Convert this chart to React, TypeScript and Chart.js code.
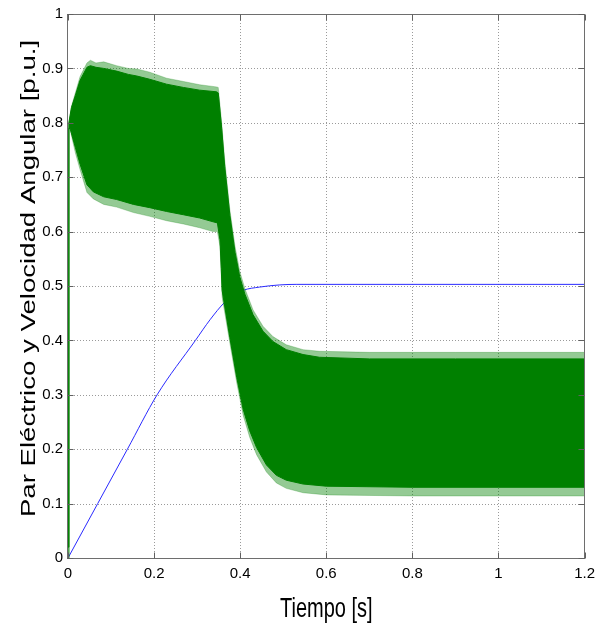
import React, { useEffect, useRef } from 'react';
import { Chart, registerables } from 'chart.js';

Chart.register(...registerables);

// Axis ticks
const xTicks = [0, 0.2, 0.4, 0.6, 0.8, 1, 1.2];
const xTickLabels = ['0', '0.2', '0.4', '0.6', '0.8', '1', '1.2'];
const yTicks = [0, 0.1, 0.2, 0.3, 0.4, 0.5, 0.6, 0.7, 0.8, 0.9, 1];
const yTickLabels = ['0', '0.1', '0.2', '0.3', '0.4', '0.5', '0.6', '0.7', '0.8', '0.9', '1'];

const xTitle = 'Tiempo [s]';
const yTitle = 'Par Eléctrico y Velocidad Angular [p.u.]';

// Electrical torque (green) – upper edge: times, spike extremes, dense body
const torqueUpperT = [0, 0.002, 0.008, 0.017, 0.028, 0.044, 0.052, 0.065, 0.083, 0.113, 0.14, 0.16, 0.19, 0.229, 0.268, 0.306, 0.345, 0.349, 0.357, 0.364, 0.376, 0.388, 0.399, 0.411, 0.43, 0.453, 0.476, 0.507, 0.546, 0.584, 0.7, 0.9, 1.2];
const torqueUpperSpikeV = [0.02, 0.8, 0.83, 0.855, 0.885, 0.91, 0.915, 0.91, 0.912, 0.905, 0.9, 0.899, 0.893, 0.882, 0.876, 0.87, 0.866, 0.865, 0.8, 0.732, 0.64, 0.573, 0.527, 0.495, 0.456, 0.426, 0.407, 0.392, 0.383, 0.38, 0.378, 0.378, 0.378];
const torqueUpperDenseV = [0.02, 0.8, 0.828, 0.85, 0.878, 0.902, 0.905, 0.902, 0.9, 0.895, 0.889, 0.886, 0.88, 0.871, 0.865, 0.86, 0.857, 0.855, 0.79, 0.72, 0.63, 0.562, 0.517, 0.485, 0.447, 0.417, 0.398, 0.383, 0.374, 0.369, 0.366, 0.366, 0.366];

// Electrical torque (green) – lower edge: times, spike extremes, dense body
const torqueLowerT = [0, 0.002, 0.005, 0.017, 0.028, 0.044, 0.059, 0.083, 0.113, 0.152, 0.19, 0.229, 0.268, 0.306, 0.337, 0.347, 0.353, 0.356, 0.358, 0.376, 0.392, 0.407, 0.422, 0.438, 0.461, 0.484, 0.507, 0.546, 0.6, 0.8, 1.0, 1.2];
const torqueLowerSpikeV = [0.0, 0.79, 0.787, 0.745, 0.714, 0.672, 0.66, 0.65, 0.645, 0.635, 0.628, 0.62, 0.614, 0.607, 0.6, 0.6, 0.573, 0.52, 0.48, 0.395, 0.322, 0.262, 0.222, 0.19, 0.158, 0.138, 0.128, 0.12, 0.116, 0.114, 0.114, 0.114];
const torqueLowerDenseV = [0.0, 0.79, 0.789, 0.755, 0.724, 0.686, 0.673, 0.664, 0.659, 0.65, 0.644, 0.637, 0.631, 0.625, 0.618, 0.616, 0.585, 0.532, 0.492, 0.405, 0.332, 0.273, 0.234, 0.203, 0.171, 0.152, 0.143, 0.136, 0.132, 0.13, 0.13, 0.13];

// Angular speed (blue)
const speedT = [0, 0.069, 0.138, 0.207, 0.296, 0.33, 0.364, 0.385, 0.407, 0.445, 0.492, 0.53, 0.6, 1.2];
const speedV = [0, 0.1, 0.2, 0.3, 0.4, 0.438, 0.47, 0.482, 0.492, 0.498, 0.502, 0.503, 0.503, 0.503];

const FONT = '"Liberation Sans", Arial, Helvetica, sans-serif';
const STRETCH = 1.38;

const pts = (t: number[], v: number[]) => t.map((x, i) => ({ x, y: v[i] }));

const framePlugin = {
  id: 'matlabFrame',
  beforeDatasetsDraw(chart: any) {
    const { ctx, chartArea: a, scales } = chart;
    const x = scales.x;
    const y = scales.y;
    ctx.save();
    ctx.strokeStyle = '#9a9a9a';
    ctx.lineWidth = 1;
    ctx.setLineDash([1, 2]);
    xTicks.forEach((v) => {
      if (v === xTicks[0] || v === xTicks[xTicks.length - 1]) return;
      const px = Math.round(x.getPixelForValue(v)) + 0.5;
      ctx.beginPath();
      ctx.moveTo(px, a.top);
      ctx.lineTo(px, a.bottom);
      ctx.stroke();
    });
    yTicks.forEach((v) => {
      if (v === yTicks[0] || v === yTicks[yTicks.length - 1]) return;
      const py = Math.round(y.getPixelForValue(v)) + 0.5;
      ctx.beginPath();
      ctx.moveTo(a.left, py);
      ctx.lineTo(a.right, py);
      ctx.stroke();
    });
    ctx.restore();
  },
  afterDatasetsDraw(chart: any) {
    const { ctx, chartArea: a, scales } = chart;
    const x = scales.x;
    const y = scales.y;
    const L = Math.round(a.left) - 0.5;
    const R = Math.round(a.right) - 0.5;
    const T = Math.round(a.top) + 0.5;
    const B = Math.round(a.bottom) + 0.5;
    ctx.save();
    ctx.setLineDash([]);
    ctx.lineWidth = 1;
    ctx.strokeStyle = '#6e6e6e';
    ctx.strokeRect(L, T, R - L, B - T);
    const tl = 6;
    ctx.strokeStyle = '#606060';
    xTicks.forEach((v) => {
      const px = Math.round(x.getPixelForValue(v)) + 0.5;
      ctx.beginPath();
      ctx.moveTo(px, B);
      ctx.lineTo(px, B - tl);
      ctx.moveTo(px, T);
      ctx.lineTo(px, T + tl);
      ctx.stroke();
    });
    yTicks.forEach((v) => {
      const py = Math.round(y.getPixelForValue(v)) + 0.5;
      ctx.beginPath();
      ctx.moveTo(L, py);
      ctx.lineTo(L + tl, py);
      ctx.moveTo(R, py);
      ctx.lineTo(R - tl, py);
      ctx.stroke();
    });
    ctx.restore();
  },
  afterDraw(chart: any) {
    const { ctx, chartArea: a } = chart;
    ctx.save();
    ctx.fillStyle = '#000';
    ctx.font = `20px ${FONT}`;
    ctx.textAlign = 'center';
    ctx.textBaseline = 'alphabetic';
    // x title
    ctx.save();
    ctx.translate((a.left + a.right) / 2, 617);
    ctx.scale(1, STRETCH);
    ctx.fillText(xTitle, 0, 0);
    ctx.restore();
    // y title
    ctx.save();
    ctx.translate(35, 278.5);
    ctx.rotate(-Math.PI / 2);
    ctx.scale(STRETCH, 1);
    ctx.fillText(yTitle, 0, 0);
    ctx.restore();
    ctx.restore();
  },
};

export default function App() {
  const canvasRef = useRef<HTMLCanvasElement | null>(null);

  useEffect(() => {
    document.body.style.margin = '0';
    document.body.style.background = '#ffffff';
    const canvas = canvasRef.current;
    if (!canvas) return;
    const green = 'rgb(0,128,0)';
    const lightGreen = 'rgba(0,128,0,0.42)';
    const chart = new Chart(canvas, {
      type: 'line',
      data: {
        datasets: [
          {
            label: 'Par eléctrico (cuerpo inferior)',
            data: pts(torqueLowerT, torqueLowerDenseV),
            borderColor: green,
            borderWidth: 1,
            pointRadius: 0,
            fill: false,
            tension: 0,
          },
          {
            label: 'Par eléctrico (cuerpo superior)',
            data: pts(torqueUpperT, torqueUpperDenseV),
            borderColor: green,
            borderWidth: 1,
            backgroundColor: green,
            pointRadius: 0,
            fill: '-1',
            tension: 0,
          },
          {
            label: 'Par eléctrico (picos inferiores)',
            data: pts(torqueLowerT, torqueLowerSpikeV),
            borderColor: 'rgba(0,128,0,0.25)',
            borderWidth: 1,
            pointRadius: 0,
            fill: false,
            tension: 0,
          },
          {
            label: 'Par eléctrico (picos superiores)',
            data: pts(torqueUpperT, torqueUpperSpikeV),
            borderColor: 'rgba(0,128,0,0.25)',
            borderWidth: 1,
            backgroundColor: lightGreen,
            pointRadius: 0,
            fill: '-1',
            tension: 0,
          },
          {
            label: 'Velocidad angular',
            data: pts(speedT, speedV),
            borderColor: '#2a2aff',
            borderWidth: 1,
            pointRadius: 0,
            fill: false,
            cubicInterpolationMode: 'monotone',
          },
        ],
      },
      options: {
        responsive: false,
        animation: false,
        devicePixelRatio: 1,
        layout: { padding: { left: 0, top: 14, right: 16, bottom: 0 } },
        plugins: {
          legend: { display: false },
          tooltip: { enabled: false },
          title: { display: false },
        },
        scales: {
          x: {
            type: 'linear',
            min: 0,
            max: 1.2,
            grid: { display: false, drawTicks: false },
            border: { display: false },
            afterBuildTicks: (scale: any) => {
              scale.ticks = xTicks.map((v) => ({ value: v }));
            },
            afterFit: (scale: any) => {
              scale.height = 66;
            },
            ticks: {
              autoSkip: false,
              maxRotation: 0,
              padding: 7,
              color: '#000',
              font: { family: FONT, size: 15 },
              callback: (_v: any, i: number) => xTickLabels[i],
            },
          },
          y: {
            type: 'linear',
            min: 0,
            max: 1,
            grid: { display: false, drawTicks: false },
            border: { display: false },
            afterBuildTicks: (scale: any) => {
              scale.ticks = yTicks.map((v) => ({ value: v }));
            },
            afterFit: (scale: any) => {
              scale.width = 68;
            },
            ticks: {
              autoSkip: false,
              padding: 5,
              color: '#000',
              font: { family: FONT, size: 15 },
              callback: (_v: any, i: number) => yTickLabels[i],
            },
          },
        },
      },
      plugins: [framePlugin],
    } as any);
    return () => chart.destroy();
  }, []);

  return (
    <div style={{ width: 602, height: 624, background: '#fff' }}>
      <canvas ref={canvasRef} width={602} height={624} style={{ width: 602, height: 624, display: 'block' }} />
    </div>
  );
}
